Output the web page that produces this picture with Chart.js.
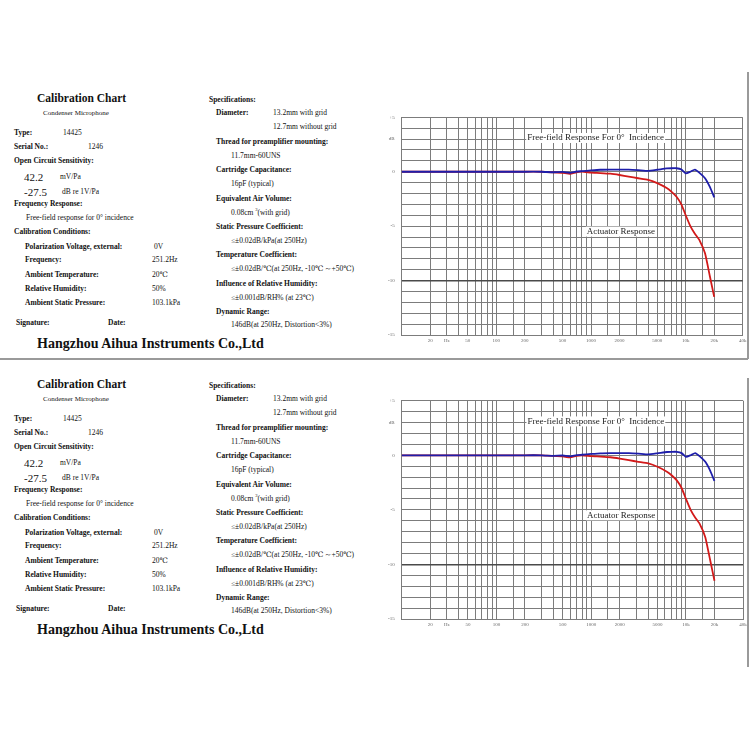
<!DOCTYPE html>
<html>
<head>
<meta charset="utf-8">
<script src="https://cdn.jsdelivr.net/npm/chart.js@4.4.0/dist/chart.umd.min.js"></script>
<style>
html, body { margin: 0; padding: 0; background: #fff; }
#pagina { position: relative; width: 750px; height: 750px; overflow: hidden; background: #fff;
  font-family: "Liberation Serif", "DejaVu Serif", serif; color: #111; }
.t { position: absolute; white-space: nowrap; line-height: 1; font-size: 7.5px; transform: translateY(-50%); }
.b { font-weight: bold; }
.titulo { font-size: 11.5px; font-weight: bold; }
.sm { font-size: 7px; }
.big { font-size: 11px; }
.empresa { font-size: 14px; font-weight: bold; }
.t sup { font-size: 4.5px; }
.caja { position: absolute; left: 370px; width: 380px; height: 250px; }
.regla { position: absolute; background: #9a9a9a; }
</style>
</head>
<body>
<div id="pagina">
  <div class="regla" style="left:0;top:358px;width:748px;height:1.5px"></div>
  <div class="regla" style="left:747px;top:72px;width:1.5px;height:287px"></div>
  <div class="regla" style="left:747px;top:378px;width:1.5px;height:289px"></div>
  <div class="caja" style="top:105px"><canvas id="grafica1" width="380" height="250"></canvas></div>
  <div class="caja" style="top:389px"><canvas id="grafica2" width="380" height="250"></canvas></div>
</div>
<script>
// ===============================
// DATOS
// ===============================
const frecuencias = [10, 20, 50, 100, 200, 300, 400, 500, 600, 700, 800, 1000, 1250, 1600, 2000, 2500, 3150, 4000, 5000, 6300, 7100, 8000, 9000, 10000, 11200, 12500, 14000, 16000, 18000, 20000];
const campoLibre = [0, 0, 0, 0, 0, 0, -0.05, -0.02, -0.1, 0.02, 0.05, 0.12, 0.18, 0.2, 0.2, 0.2, 0.15, 0.08, 0.18, 0.3, 0.32, 0.32, 0.2, -0.15, 0.0, 0.2, -0.1, -0.6, -1.4, -2.35];
const actuador = [0, 0, 0, 0, 0, 0, -0.05, -0.1, -0.2, -0.05, 0.0, -0.08, -0.12, -0.18, -0.3, -0.45, -0.6, -0.75, -1.05, -1.5, -1.85, -2.3, -3.0, -4.0, -5.0, -5.7, -6.3, -7.5, -9.6, -11.5];

// líneas de rejilla y etiquetas de los ejes
const lineasX = [10, 20, 30, 40, 50, 60, 70, 80, 90, 100, 150, 200, 300, 400, 500, 600, 700, 800, 900, 1000, 1500, 2000, 3000, 4000, 5000, 6000, 7000, 8000, 9000, 10000, 15000, 20000, 40000];
const valoresEtiquetaX = [20, 30, 50, 100, 200, 500, 1000, 2000, 5000, 10000, 20000, 40000];
const textosEtiquetaX = ["20", "Hz", "50", "100", "200", "500", "1000", "2000", "5000", "10k", "20k", "40k"];
const lineasY = [-15, -14, -13, -12, -11, -10, -9, -8, -7, -6, -5, -4, -3, -2, -1, 0, 1, 2, 3, 4, 5];
const valoresEtiquetaY = [5, 3, 0, -5, -10, -15];
const textosEtiquetaY = ["+5", "dB", "0", "-5", "-10", "-15"];

const nombreCampoLibre = "Free-field Response For 0°  Incidence";
const nombreActuador = "Actuator Response";

// ===============================
// TEXTOS DE LA HOJA
// ===============================
const textosHoja = [
  [37, 99, "Calibration Chart", "titulo"],
  [43, 113, "Condenser Microphone", "sm"],
  [14, 133.3, "Type:", "b"], [63, 133.3, "14425", ""],
  [14, 147.3, "Serial No.:", "b"], [88, 147.3, "1246", ""],
  [14, 161.3, "Open Circuit Sensitivity:", "b"],
  [24, 176.7, "42.2", "big"], [60, 176.7, "mV/Pa", ""],
  [24, 191.7, "-27.5", "big"], [62, 191.7, "dB re 1V/Pa", ""],
  [14, 204, "Frequency Response:", "b"],
  [26, 218, "Free-field response for 0° incidence", ""],
  [14, 232, "Calibration Conditions:", "b"],
  [25, 247, "Polarization Voltage, external:", "b"], [154, 247, "0V", ""],
  [25, 260.3, "Frequency:", "b"], [152, 260.3, "251.2Hz", ""],
  [25, 275, "Ambient Temperature:", "b"], [152, 275, "20℃", ""],
  [25, 289, "Relative Humidity:", "b"], [152, 289, "50%", ""],
  [25, 303.3, "Ambient Static Pressure:", "b"], [152, 303.3, "103.1kPa", ""],
  [16, 323.3, "Signature:", "b"], [108, 323.3, "Date:", "b"],
  [37, 344, "Hangzhou Aihua Instruments Co.,Ltd", "empresa"],
  [209, 100, "Specifications:", "b"],
  [216, 113.3, "Diameter:", "b"], [273, 113.3, "13.2mm with grid", ""],
  [273, 127.3, "12.7mm without grid", ""],
  [216, 141.7, "Thread for preamplifier mounting:", "b"],
  [231, 156, "11.7mm-60UNS", ""],
  [216, 170.3, "Cartridge Capacitance:", "b"],
  [231, 184, "16pF (typical)", ""],
  [216, 198.7, "Equivalent Air Volume:", "b"],
  [231, 212.3, "0.08cm <sup>3</sup>(with grid)", ""],
  [216, 226.7, "Static Pressure Coefficient:", "b"],
  [231, 240.7, "≤±0.02dB/kPa(at 250Hz)", ""],
  [216, 255, "Temperature Coefficient:", "b"],
  [231, 269, "≤±0.02dB/℃(at 250Hz, -10℃～+50℃)", ""],
  [216, 283.7, "Influence of Relative Humidity:", "b"],
  [231, 297.7, "≤±0.001dB/RH% (at 23℃)", ""],
  [216, 312.3, "Dynamic Range:", "b"],
  [231, 325, "146dB(at 250Hz, Distortion&lt;3%)", ""]
];

function pintarHoja(desplazamiento) {
  const pagina = document.getElementById("pagina");
  textosHoja.forEach(([x, y, texto, clase]) => {
    const el = document.createElement("div");
    el.className = "t " + clase;
    el.style.left = x + "px";
    el.style.top = (y + desplazamiento) + "px";
    el.innerHTML = texto;
    pagina.appendChild(el);
  });
}
pintarHoja(0);
pintarHoja(286);

// ===============================
// PLUGIN: RÓTULOS DENTRO DEL GRÁFICO
// ===============================
const rotulos = {
  id: "rotulos",
  afterDatasetsDraw(chart, args, opts) {
    const { ctx, scales: { x, y } } = chart;
    ctx.save();
    ctx.font = '9px "Liberation Serif", serif';
    ctx.textAlign = "center";
    ctx.textBaseline = "middle";
    opts.items.forEach(it => {
      const px = x.getPixelForValue(it.f);
      const py = y.getPixelForValue(it.db);
      const w = ctx.measureText(it.texto).width;
      ctx.fillStyle = "#fff";
      ctx.fillRect(px - w / 2 - 1, py - 5, w + 2, 10);
      ctx.fillStyle = "#222";
      ctx.fillText(it.texto, px, py);
    });
    ctx.restore();
  }
};

// ===============================
// FUNCIÓN PARA CREAR CADA GRÁFICA
// ===============================
function crearGrafica(id, plot) {
  const fuente = { family: '"Liberation Serif", serif', size: 5 };
  const puntos = serie => frecuencias.map((f, i) => ({ x: f, y: serie[i] }));

  return new Chart(document.getElementById(id), {
    type: "line",
    data: {
      datasets: [
        { data: puntos(campoLibre), borderColor: "#1e1eaa", borderWidth: 1.8, pointRadius: 0, tension: 0.15 },
        { data: puntos(actuador), borderColor: "#d21a1a", borderWidth: 1.8, pointRadius: 0, tension: 0.15 }
      ]
    },
    options: {
      responsive: false,
      animation: false,
      layout: { padding: { top: plot.top, right: plot.right, left: 0, bottom: 0 } },
      plugins: {
        legend: { display: false },
        tooltip: { enabled: false },
        rotulos: {
          items: [
            { texto: nombreCampoLibre, f: 1120, db: 3.1 },
            { texto: nombreActuador, f: 2070, db: -5.5 }
          ]
        }
      },
      scales: {
        x: {
          type: "logarithmic",
          min: 10,
          max: 40000,
          afterBuildTicks: s => { s.ticks = lineasX.map(v => ({ value: v })); },
          afterFit: s => { s.height = plot.bottom; s.paddingLeft = 0; s.paddingRight = 0; },
          grid: { color: "#7c7c7c", lineWidth: 1, drawTicks: false },
          border: { color: "#7c7c7c" },
          ticks: {
            autoSkip: false, maxRotation: 0, minRotation: 0, padding: 3,
            font: fuente, color: "#666",
            callback: v => { const k = valoresEtiquetaX.indexOf(v); return k >= 0 ? textosEtiquetaX[k] : ""; }
          }
        },
        y: {
          type: "linear",
          min: -15,
          max: 5,
          afterBuildTicks: s => { s.ticks = lineasY.map(v => ({ value: v })); },
          afterFit: s => { s.width = plot.left; s.paddingTop = 0; s.paddingBottom = 0; },
          grid: {
            color: c => (c.tick && c.tick.value === -10) ? "#4a4a4a" : "#7c7c7c",
            lineWidth: c => (c.tick && c.tick.value === -10) ? 1.6 : 1,
            drawTicks: false
          },
          border: { color: "#7c7c7c" },
          ticks: {
            padding: 7, font: fuente, color: "#666",
            callback: v => { const k = valoresEtiquetaY.indexOf(v); return k >= 0 ? textosEtiquetaY[k] : ""; }
          }
        }
      }
    },
    plugins: [rotulos]
  });
}

crearGrafica("grafica1", { left: 31.7, top: 12.3, right: 7.3, bottom: 20 });
crearGrafica("grafica2", { left: 31.7, top: 11.7, right: 7, bottom: 20 });
</script>
</body>
</html>
